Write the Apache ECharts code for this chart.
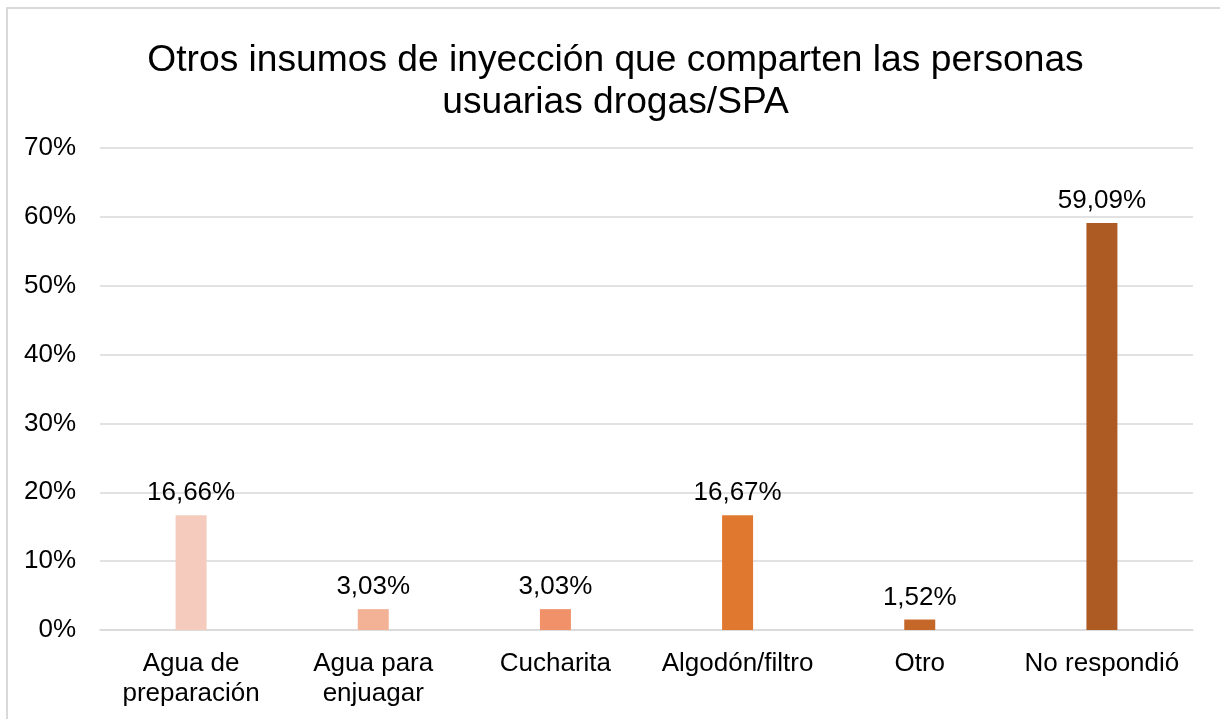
<!DOCTYPE html>
<html>
<head>
<meta charset="utf-8">
<script src="https://cdn.jsdelivr.net/npm/echarts@6/dist/echarts.min.js"></script>
<style>
html,body{margin:0;padding:0;background:#fff;}
#chart{width:1220px;height:719px;}
</style>
</head>
<body>
<div id="chart"></div>
<script>
var categories = ["Agua de\npreparación", "Agua para\nenjuagar", "Cucharita", "Algodón/filtro", "Otro", "No respondió"];
var values = [16.66, 3.03, 3.03, 16.67, 1.52, 59.09];
var barColors = ["#F5CBBD", "#F3B195", "#F0916A", "#E1782F", "#C6672A", "#AD5A23"];
var titleText = "Otros insumos de inyección que comparten las personas\nusuarias drogas/SPA";

var fontName = "Liberation Sans, Arial, sans-serif";

var barData = [];
for (var i = 0; i < values.length; i++) {
    barData.push({value: values[i], itemStyle: {color: barColors[i]}});
}

var option = {
    animation: false,
    backgroundColor: "#fff",
    title: {
        text: titleText,
        left: 610.5,
        top: 35,
        textAlign: 'center',
        textStyle: {
            color: "#000",
            fontFamily: fontName,
            fontWeight: 'normal',
            fontSize: 37.2,
            lineHeight: 42
        }
    },
    graphic: [{
        type: 'rect',
        shape: {x: 7, y: 8, width: 1240, height: 740},
        style: {fill: null, stroke: "#d9d9d9", lineWidth: 2},
        silent: true,
        z: -1
    }],
    grid: {left: 100, right: 27, top: 148, bottom: 89},
    xAxis: {
        type: 'category',
        data: categories,
        axisLine: {lineStyle: {color: "#d9d9d9", width: 1.5}},
        axisTick: {show: false},
        axisLabel: {
            interval: 0,
            margin: 19,
            color: "#000",
            fontFamily: fontName,
            fontSize: 26,
            lineHeight: 30
        }
    },
    yAxis: {
        type: 'value',
        min: 0,
        max: 70,
        interval: 10,
        axisLine: {show: false},
        axisTick: {show: false},
        splitLine: {lineStyle: {color: "#d9d9d9", width: 1.5}},
        axisLabel: {
            margin: 24,
            color: "#000",
            fontFamily: fontName,
            fontSize: 26,
            formatter: function (v) { return v + "%"; }
        }
    },
    series: [{
        type: 'bar',
        data: barData,
        barWidth: 31,
        label: {
            show: true,
            position: 'top',
            distance: 9,
            color: "#000",
            fontFamily: fontName,
            fontSize: 26,
            formatter: function (p) { return p.value.toFixed(2).replace(".", ",") + "%"; }
        }
    }]
};

var chart = echarts.init(document.getElementById('chart'));
chart.setOption(option);
</script>
</body>
</html>
